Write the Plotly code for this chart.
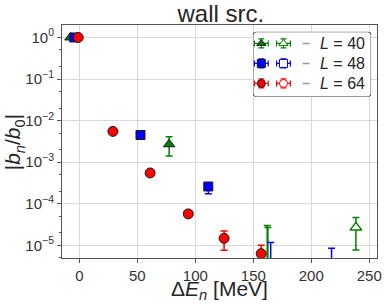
import plotly.graph_objects as go

# ---------------- data ----------------
L40_E = [-7.7, 77.4, 162.0]
L40_b = [1.0, 2.7e-3, 2.5e-6]
L40_up = [0.0, 1.4e-3, 2.75e-5]
L40_dn = [0.0, 1.3e-3, 2.0e-6]

L40o_E = [162.6, 238.5]
L40o_b = [2.5e-6, 2.7e-5]
L40o_up = [2.45e-5, 2.0e-5]
L40o_dn = [2.0e-6, 1.93e-5]

L48_E = [-4.5, 52.7, 111.2, 165.0]
L48_b = [1.0, 4.5e-3, 2.6e-4, 2.5e-6]
L48_up = [0.0, 0.0, 3.0e-5, 9.2e-6]
L48_dn = [0.0, 0.0, 8.6e-5, 2.0e-6]

L48o_E = [217.5]
L48o_b = [2.5e-6]
L48o_up = [6.0e-6]
L48o_dn = [2.0e-6]

L64_E = [-1.0, 28.9, 61.0, 93.9, 124.8, 156.8]
L64_b = [1.0, 5.5e-3, 5.5e-4, 5.7e-5, 1.47e-5, 6.3e-6]
L64_up = [0.0, 0.0, 0.0, 5.0e-6, 7.3e-6, 3.7e-6]
L64_dn = [0.0, 0.0, 0.0, 5.0e-6, 7.1e-6, 2.5e-6]

y_tickvals = [1, 1e-1, 1e-2, 1e-3, 1e-4, 1e-5]
y_ticktext = ["10<sup>0</sup>", "10<sup>\u22121</sup>", "10<sup>\u22122</sup>",
              "10<sup>\u22123</sup>", "10<sup>\u22124</sup>", "10<sup>\u22125</sup>"]
x_tickvals = [0, 50, 100, 150, 200, 250]

title_text = "wall src."
x_title = "\u0394<i>E</i><sub><i>n</i></sub> [MeV]"
y_title = "|<i>b</i><sub><i>n</i></sub>/<i>b</i><sub>0</sub>|"

legend_labels = ["<i>L</i> = 40", "<i>L</i> = 48", "<i>L</i> = 64"]
series_colors = ["#008000", "#0000ff", "#ff0000"]
series_symbols = ["triangle-up", "square", "circle"]

FONT = "Liberation Sans, Arial, sans-serif"

fig = go.Figure()


def add_series(E, b, up, dn, color, symbol, filled, size):
    fig.add_trace(go.Scatter(
        x=E, y=b, mode="markers",
        marker=dict(symbol=symbol, size=size,
                    color=color if filled else "white",
                    line=dict(color="#1a1a1a" if filled else color, width=1 if filled else 1.5)),
        error_y=dict(type="data", symmetric=False, array=up, arrayminus=dn,
                     color=color, thickness=1.5, width=3.5),
        showlegend=False, cliponaxis=True,
    ))


add_series(L40_E, L40_b, L40_up, L40_dn, series_colors[0], "triangle-up", True, 10)
add_series(L40o_E, L40o_b, L40o_up, L40o_dn, series_colors[0], "triangle-up", False, 10)
add_series(L48_E, L48_b, L48_up, L48_dn, series_colors[1], "square", True, 9)
add_series(L48o_E, L48o_b, L48o_up, L48o_dn, series_colors[1], "square", False, 9)
add_series(L64_E, L64_b, L64_up, L64_dn, series_colors[2], "circle", True, 10)

# ---------------- custom legend on its own axes ----------------
row_y = [53.3, 33.3, 13.3]
for i in range(3):
    c = series_colors[i]
    s = series_symbols[i]
    for xx, filled in ((8.5, True), (31, False)):
        fig.add_trace(go.Scatter(
            x=[xx], y=[row_y[i]], xaxis="x2", yaxis="y2", mode="markers",
            marker=dict(symbol=s, size=8,
                        color=c if filled else "white",
                        line=dict(color="#1a1a1a" if filled else c, width=1)),
            error_x=dict(type="constant", value=7, color=c, thickness=1.2, width=3),
            error_y=dict(type="constant", value=4.5, color=c, thickness=1.2, width=3),
            showlegend=False, hoverinfo="skip",
        ))
    fig.add_shape(type="line", xref="x2", yref="y2", x0=50.5, x1=57.5,
                  y0=row_y[i], y1=row_y[i], line=dict(color="#999999", width=1.5))
    fig.add_annotation(x=66, y=row_y[i], xref="x2", yref="y2", text=legend_labels[i],
                       showarrow=False, xanchor="left", yanchor="middle",
                       font=dict(family=FONT, size=16, color="#262626"))

r = 3.5
W, H = 120, 65
path = (f"M {r},0 L {W-r},0 Q {W},0 {W},{r} L {W},{H-r} Q {W},{H} {W-r},{H} "
        f"L {r},{H} Q 0,{H} 0,{H-r} L 0,{r} Q 0,0 {r},0 Z")
fig.add_shape(type="path", path=path, xref="x2", yref="y2", layer="between",
              fillcolor="rgba(255,255,255,0.85)", line=dict(color="#444444", width=1))

# axis titles as annotations for exact placement
fig.add_annotation(x=0.5, y=-0.139, xref="paper", yref="paper", text=x_title,
                   showarrow=False, xanchor="center", yanchor="middle",
                   font=dict(family=FONT, size=21, color="#262626"))
fig.add_annotation(x=-0.153, y=0.5, xref="paper", yref="paper", text=y_title,
                   showarrow=False, xanchor="center", yanchor="middle", textangle=-90,
                   font=dict(family=FONT, size=21, color="#262626"))

axis_common = dict(showline=True, linecolor="#555555", linewidth=1, mirror=True,
                   gridcolor="#d9d9d9", gridwidth=1, ticks="outside", ticklen=4,
                   tickcolor="#555555", tickfont=dict(family=FONT, size=15, color="#333333"),
                   zeroline=False)

fig.update_layout(
    width=391, height=304,
    margin=dict(l=62, r=9, t=25, b=46),
    paper_bgcolor="white", plot_bgcolor="white",
    title=dict(text=title_text, x=0.5648, xanchor="center", xref="container",
               y=0.984, yanchor="top", yref="container",
               font=dict(family=FONT, size=24, color="#262626")),
    xaxis=dict(range=[-15, 256.7], tickvals=x_tickvals, **axis_common),
    yaxis=dict(type="log", range=[-5.305, 0.30], tickvals=y_tickvals, ticktext=y_ticktext,
               minor=dict(ticks="outside", ticklen=2, tickcolor="#555555", showgrid=False),
               **axis_common),
    xaxis2=dict(domain=[0.60625, 0.98125], range=[0, 120], visible=False,
                showgrid=False, zeroline=False, anchor="y2", fixedrange=True),
    yaxis2=dict(domain=[0.692, 0.971], range=[0, 65], visible=False,
                showgrid=False, zeroline=False, anchor="x2", fixedrange=True),
)

fig.write_html("out.html", config={"displayModeBar": False},
               post_script="document.body.style.margin='0';document.body.style.overflow='hidden';")
